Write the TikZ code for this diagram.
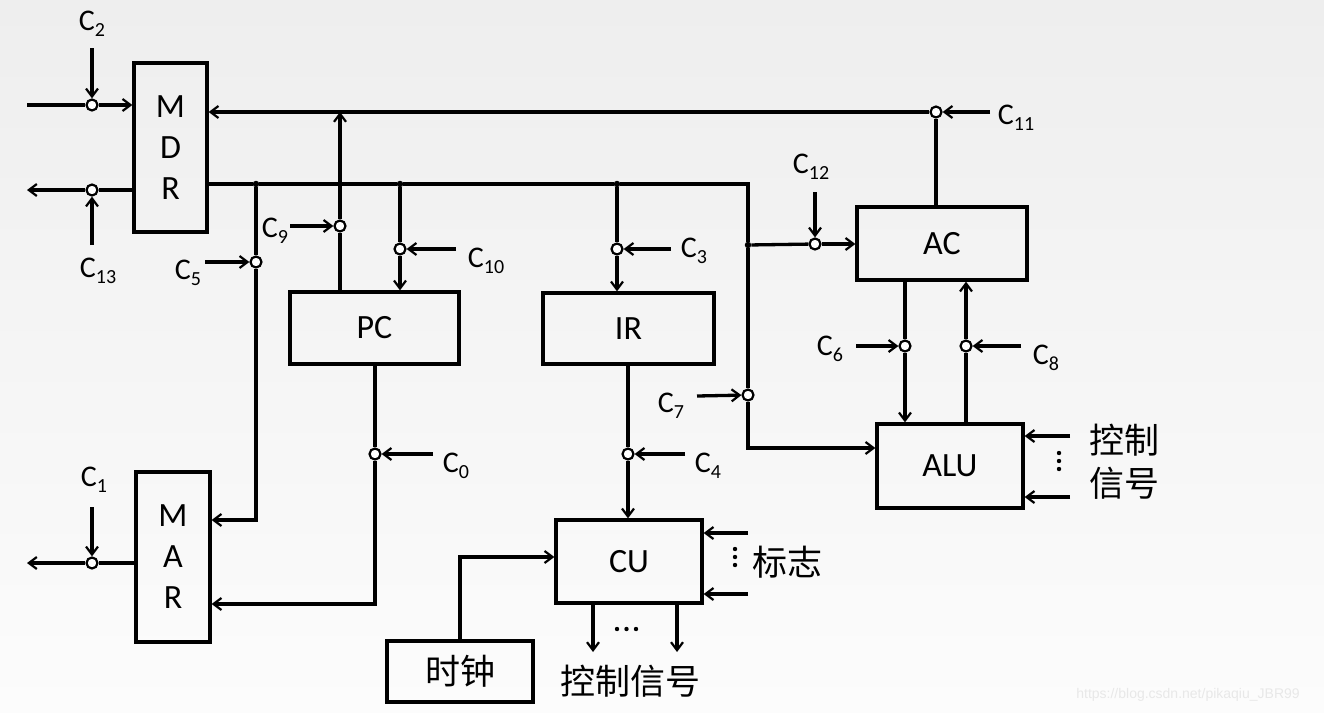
\documentclass[tikz,border=0pt]{standalone}
\usepackage{fontspec}
\setmainfont{Carlito}
\newfontfamily\cjk{Noto Sans CJK SC}
\newfontfamily\wmfont{Liberation Sans}
\usetikzlibrary{arrows.meta,positioning,calc}

\definecolor{bgtop}{RGB}{238,238,238}
\definecolor{bgbot}{RGB}{252,252,252}
\newcommand{\csig}[1]{C\raisebox{-0.2em}{\fontsize{20}{20}\selectfont #1}}

\tikzset{
  reg/.style={draw, line width=3.3pt, inner sep=0pt, align=center, font=\fontsize{34}{41}\selectfont},
  gate/.style={draw, circle, line width=2.2pt, fill=white, inner sep=0pt, minimum size=11pt},
  joint/.style={circle, fill, inner sep=0pt, minimum size=6.5pt},
  bus/.style={line width=3.3pt},
  sig/.style={bus, -{Straight Barb[length=8pt,width=12pt,line width=2.2pt]}},
  clabel/.style={inner sep=0pt, font=\fontsize{30}{36}\selectfont},
  zh/.style={inner sep=0pt, align=center, font=\cjk\fontsize{35}{43}\selectfont}
}

\begin{document}
\begin{tikzpicture}[x=1pt, y=-1pt]
        \useasboundingbox (0,0) rectangle (1324,712);
        \fill[top color=bgtop, bottom color=bgbot] (0,0) rectangle (1324,712);

        % Registers and units
        \node (mdr) [reg, minimum width=73pt, minimum height=169pt] at (170.5,147.5) {M\\D\\R};
        \node (mar) [reg, minimum width=74pt, minimum height=170pt] at (173,557) {M\\A\\R};
        \node (pc) [reg, minimum width=169pt, minimum height=72pt] at (374.5,328) {PC};
        \node (ir) [reg, minimum width=171pt, minimum height=71pt] at (628.5,328.5) {IR};
        \node (ac) [reg, minimum width=170pt, minimum height=73pt] at (942,243.5) {AC};
        \node (alu) [reg, minimum width=146pt, minimum height=84pt] at (950,466) {ALU};
        \node (cu) [reg, minimum width=146pt, minimum height=83pt] at (629,561.5) {CU};
        \node (clk) [reg, minimum width=146pt, minimum height=61pt, font=\cjk\fontsize{35}{43}\selectfont] at (460,671.5) {时钟};

        % Control gates
        \node (g2) [gate] at (92,105) {};
        \node (g13) [gate] at (92,190) {};
        \node (g1) [gate] at (92,563) {};
        \node (g5) [gate] at (256,262) {};
        \node (g9) [gate] at (340,226) {};
        \node (g10) [gate] at (400,249) {};
        \node (g0) [gate] at (375,454) {};
        \node (g3) [gate] at (617,249) {};
        \node (g4) [gate] at (628,454) {};
        \node (g7) [gate] at (748,395) {};
        \node (g12) [gate] at (815,244) {};
        \node (g11) [gate] at (936,112) {};
        \node (g6) [gate] at (905,346) {};
        \node (g8) [gate] at (966,346) {};

        % Bus joints
        \node (j5) [joint] at (256,184) {};
        \node (j10) [joint] at (400,184) {};
        \node (j3) [joint] at (617,184) {};
        \node (j12) [joint] at (748,245) {};
        \coordinate (bend) at (748,184);

        % Free ends
        \coordinate (mem in) at (27,105);
        \coordinate (mem out) at (27,190);
        \coordinate (addr out) at (27,563);
        \coordinate (mar in1) at ($(mar.east)+(0,-37)$);
        \coordinate (mar in2) at ($(mar.east)+(0,47)$);
        \coordinate (alu in) at ($(alu.west)+(0,-18)$);
        \coordinate (cu in) at ($(cu.west)+(0,-4.5)$);
        \coordinate (ctl1) at (1070,436);
        \coordinate (ctl2) at (1070,497);
        \coordinate (flg1) at (748,533);
        \coordinate (flg2) at (748,594);
        \coordinate (out1) at (593,652);
        \coordinate (out2) at (677,652);

        % Signal sources
        \coordinate (s2) at (92,48);
        \coordinate (s13) at (92,245);
        \coordinate (s1) at (92,507);
        \coordinate (s5) at (205,262);
        \coordinate (s9) at (290,226);
        \coordinate (s10) at (456,249);
        \coordinate (s0) at (433,454);
        \coordinate (s3) at (671,249);
        \coordinate (s4) at (685,454);
        \coordinate (s7) at (697,396);
        \coordinate (s12) at (815,192);
        \coordinate (s11) at (990,112);
        \coordinate (s6) at (856,346);
        \coordinate (s8) at (1021,346);

        % Memory side
        \draw[bus] (mem in) -- (g2);
        \draw[sig] (g2) -- (g2 -| mdr.west);
        \draw[bus] (g13 -| mdr.west) -- (g13);
        \draw[sig] (g13) -- (mem out);
        \draw[bus] (g1 -| mar.west) -- (g1);
        \draw[sig] (g1) -- (addr out);

        % AC -> MDR bus
        \draw[bus] (g11 |- ac.north) -- (g11);
        \draw[sig] (g11) -- (g11 -| mdr.east);

        % MDR out bus
        \draw[bus] (j5 -| mdr.east) -- (j5) -- (j10) -- (j3) -- (bend) -- (j12) -- (g7);
        \draw[sig] (g7) |- (alu in);
        \draw[bus] (j5) -- (g5);
        \draw[sig] (g5) |- (mar in1);

        % PC
        \draw[bus] (g9 |- pc.north) -- (g9);
        \draw[sig] (g9) -- (g9 |- g11);
        \draw[bus] (j10) -- (g10);
        \draw[sig] (g10) -- (g10 |- pc.north);
        \draw[bus] (g0 |- pc.south) -- (g0);
        \draw[sig] (g0) |- (mar in2);

        % IR and CU
        \draw[bus] (j3) -- (g3);
        \draw[sig] (g3) -- (g3 |- ir.north);
        \draw[bus] (g4 |- ir.south) -- (g4);
        \draw[sig] (g4) -- (g4 |- cu.north);
        \draw[sig] (clk.north) |- (cu in);
        \draw[sig] (flg1) -- (flg1 -| cu.east);
        \draw[sig] (flg2) -- (flg2 -| cu.east);
        \draw[sig] (out1 |- cu.south) -- (out1);
        \draw[sig] (out2 |- cu.south) -- (out2);

        % AC and ALU
        \draw[bus] (j12) -- (g12);
        \draw[sig] (g12) -- (g12 -| ac.west);
        \draw[bus] (g6 |- ac.south) -- (g6);
        \draw[sig] (g6) -- (g6 |- alu.north);
        \draw[bus] (g8 |- alu.north) -- (g8);
        \draw[sig] (g8) -- (g8 |- ac.south);
        \draw[sig] (ctl1) -- (ctl1 -| alu.east);
        \draw[sig] (ctl2) -- (ctl2 -| alu.east);

        % Control signals
        \foreach \k in {2,13,1,5,9,10,0,3,4,7,12,11,6,8}
          \draw[sig] (s\k) -- (g\k);

        \node (l2) [clabel] at (92,24) {\csig{2}};
        \node (l13) [clabel] at (98,271) {\csig{13}};
        \node (l1) [clabel] at (94,480) {\csig{1}};
        \node (l5) [clabel] at (188,273) {\csig{5}};
        \node (l9) [clabel] at (275,231) {\csig{9}};
        \node (l10) [clabel] at (486,261) {\csig{10}};
        \node (l0) [clabel] at (456,466) {\csig{0}};
        \node (l3) [clabel] at (694,251) {\csig{3}};
        \node (l4) [clabel] at (708,466) {\csig{4}};
        \node (l7) [clabel] at (671,406) {\csig{7}};
        \node (l12) [clabel] at (811,167) {\csig{12}};
        \node (l11) [clabel] at (1016,118) {\csig{11}};
        \node (l6) [clabel] at (830,349) {\csig{6}};
        \node (l8) [clabel] at (1046,358) {\csig{8}};

        % Chinese labels and dots
        \node (alu ctl) [zh] at (1124,462) {控制\\信号};
        \node (cu flag) [zh] at (787,562) {标志};
        \node (cu ctl) [zh] at (630,681) {控制信号};
        \coordinate (alu dots) at (1059,453);
        \coordinate (cu dots) at (735,549);
        \coordinate (out dots) at (617,629);
        \foreach \d in {0,8,16} {
          \fill (alu dots) ++(0,\d) circle (2.2pt);
          \fill (cu dots) ++(0,\d) circle (2.2pt);
        }
        \foreach \d in {0,9.5,19}
          \fill (out dots) ++(\d,0) circle (2.2pt);

        \node (wm) [text=black!9, font=\wmfont\fontsize{14}{16}\selectfont] at (1188,695) {https://blog.csdn.net/pikaqiu\_JBR99};
    \end{tikzpicture}
\end{document}
